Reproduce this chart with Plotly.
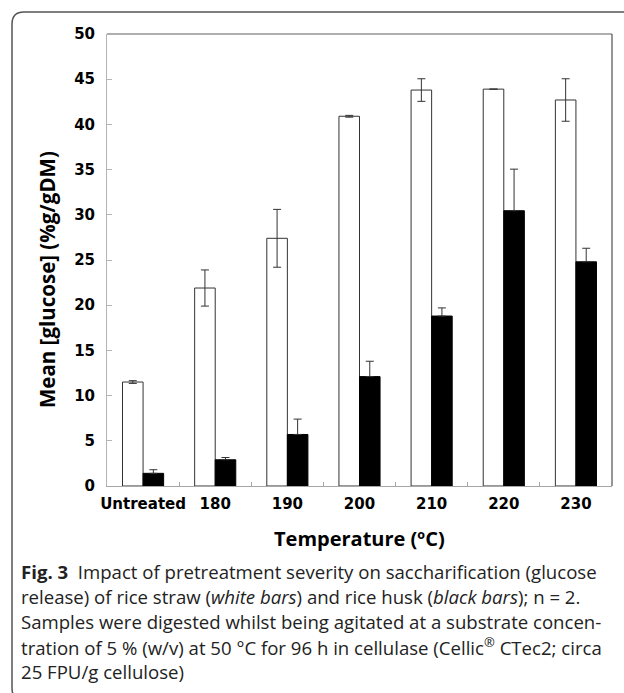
import plotly.graph_objects as go

# ---- data ----
categories = ["Untreated", "180", "190", "200", "210", "220", "230"]
straw = [11.5, 21.9, 27.4, 40.9, 43.8, 43.9, 42.7]          # white bars (rice straw)
straw_err = [0.15, 2.0, 3.2, 0.1, 1.25, 0.0, 2.35]
husk = [1.4, 2.9, 5.7, 12.1, 18.8, 30.45, 24.8]             # black bars (rice husk)
husk_err = [0.4, 0.25, 1.7, 1.7, 0.9, 4.6, 1.5]
husk_err_minus = [0, 0, 0, 0, 0, 0, 0]                      # lower whisker hidden in black bar
y_ticks = [0, 5, 10, 15, 20, 25, 30, 35, 40, 45, 50]

caption_lines = [
    "<b>Fig. 3</b>  Impact of pretreatment severity on saccharification (glucose",
    "release) of rice straw (<i>white bars</i>) and rice husk (<i>black bars</i>); n = 2.",
    "Samples were digested whilst being agitated at a substrate concen-",
    "tration of 5 % (w/v) at 50 °C for 96 h in cellulase (Cellic<sup>®</sup> CTec2; circa",
    "25 FPU/g cellulose)",
]

# ---- geometry ----
W, H = 624, 693
L, R, T, B = 107, 12, 34, 207
PW, PH = W - L - R, H - T - B


def px(x):
    return (x - L) / PW


def py(y):
    return 1 - (y - T) / PH


tick_font = dict(family="DejaVu Sans", size=15, color="black", weight="bold")

fig = go.Figure()
fig.add_trace(go.Bar(
    x=categories, y=straw, name="Rice straw",
    marker=dict(color="white", line=dict(color="#333333", width=1)),
    error_y=dict(type="data", array=straw_err, visible=True,
                 color="#333333", thickness=1, width=4),
))
fig.add_trace(go.Bar(
    x=categories, y=husk, name="Rice husk",
    marker=dict(color="black", line=dict(color="black", width=1)),
    error_y=dict(type="data", symmetric=False, array=husk_err,
                 arrayminus=husk_err_minus, visible=True,
                 color="#333333", thickness=1, width=4),
))

# outer rounded frame (figure box), drawn in paper units
r = 12
x0, y0, x1, y1 = 12, 12, 660, 700
path = (
    f"M {px(x1)},{py(y1)} L {px(x0 + r)},{py(y1)} "
    f"Q {px(x0)},{py(y1)} {px(x0)},{py(y1 - r)} "
    f"L {px(x0)},{py(y0 + r)} "
    f"Q {px(x0)},{py(y0)} {px(x0 + r)},{py(y0)} "
    f"L {px(x1)},{py(y0)}"
)
shapes = [
    dict(type="path", xref="paper", yref="paper", path=path,
         line=dict(color="#555555", width=1.5)),
    dict(type="line", xref="paper", yref="paper", x0=0, x1=1, y0=1, y1=1,
         line=dict(color="#606060", width=1.2)),
    dict(type="line", xref="paper", yref="paper", x0=1, x1=1, y0=0, y1=1,
         line=dict(color="#505050", width=1.2)),
]

annotations = [
    dict(text="Mean [glucose] (%g/gDM)", xref="paper", yref="paper",
         x=px(47), y=py(280), xanchor="center", yanchor="middle",
         textangle=-90, showarrow=False,
         font=dict(family="Open Sans", size=20.5, color="black", weight="bold")),
    dict(text="Temperature (ºC)", xref="paper", yref="paper",
         x=px(359), y=py(538), xanchor="center", yanchor="middle",
         showarrow=False,
         font=dict(family="Open Sans", size=20, color="black", weight="bold")),
]
cap_y0, cap_dy = 571, 25
for i, line in enumerate(caption_lines):
    annotations.append(dict(
        text=line, xref="paper", yref="paper",
        x=px(19), y=py(cap_y0 + i * cap_dy), xanchor="left", yanchor="middle",
        showarrow=False, align="left",
        font=dict(family="Open Sans", size=18.6, color="#222222"),
    ))

fig.update_layout(
    width=W, height=H,
    margin=dict(l=L, r=R, t=T, b=B, pad=0),
    paper_bgcolor="white", plot_bgcolor="white",
    barmode="group", bargap=0.43, bargroupgap=0,
    showlegend=False,
    shapes=shapes, annotations=annotations,
    xaxis=dict(
        type="category", showline=True, linecolor="#a6a6a6", linewidth=1,
        ticks="inside", tickson="boundaries", ticklen=4, tickcolor="#a6a6a6",
        tickfont=tick_font, showgrid=False, ticklabelstandoff=4, tickangle=0,
    ),
    yaxis=dict(
        range=[0, 50], tickvals=y_ticks, showline=True, linecolor="#b4b4b4",
        linewidth=1, ticks="inside", ticklen=5, tickcolor="#b4b4b4",
        tickfont=tick_font, showgrid=False, zeroline=False,
        ticklabelstandoff=8,
    ),
)

fig.write_html("out.html")
